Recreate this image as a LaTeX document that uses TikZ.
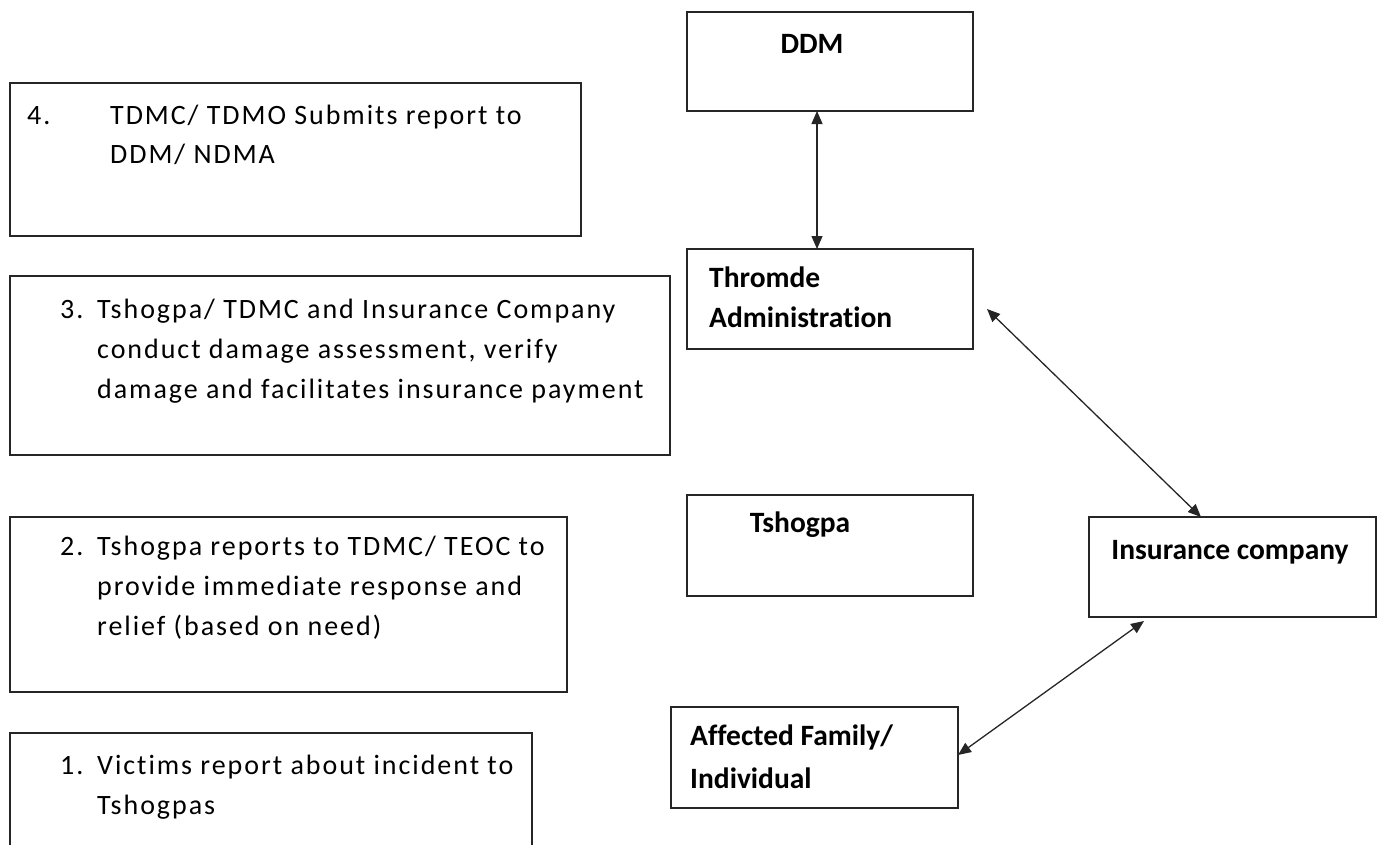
\documentclass[tikz,border=0pt]{standalone}
\usepackage{fontspec}
\setmainfont{Carlito}[Ligatures=NoCommon]
\newfontfamily\spacedfont[LetterSpace=7,Ligatures=NoCommon]{Carlito}
\usetikzlibrary{arrows.meta}
\begin{document}
\begin{tikzpicture}[x=1pt,y=-1pt,
  box/.style={draw=black!85,line width=1.4pt,inner sep=0pt,outer sep=0pt},
  txt/.style={anchor=base west,inner sep=0pt,font=\fontsize{28}{40}\spacedfont},
  btxt/.style={anchor=base west,inner sep=0pt,font=\fontsize{29.5}{40}\selectfont\bfseries},
  arr/.style={draw=black!85,line width=1.3pt,{Triangle[length=13pt,width=11pt]}-{Triangle[length=13pt,width=11pt]}}]
\useasboundingbox (0,0) rectangle (1382,844);
\clip (0,0) rectangle (1382,844);
% left step boxes
\node[box,minimum width=571pt,minimum height=153pt] (b4) at (295.5,159.5) {};
\node[box,minimum width=660pt,minimum height=179pt] (b3) at (340,365.5) {};
\node[box,minimum width=557pt,minimum height=175pt] (b2) at (288.5,604.5) {};
\node[box,minimum width=522pt,minimum height=147pt] (b1) at (271,806.5) {};
% step texts
\node[txt] (n4) at (27,124) {4.};
\node[txt] (t4a) at (110,124) {TDMC/ TDMO Submits report to};
\node[txt] (t4b) at (110,163) {DDM/ NDMA};
\node[txt] (n3) at (60,318) {3.};
\node[txt] (t3a) at (97,318) {Tshogpa/ TDMC and Insurance Company};
\node[txt] (t3b) at (97,358) {conduct damage assessment, verify};
\node[txt] (t3c) at (97,398) {damage and facilitates insurance payment};
\node[txt] (n2) at (60,555) {2.};
\node[txt] (t2a) at (97,555) {Tshogpa reports to TDMC/ TEOC to};
\node[txt] (t2b) at (97,595) {provide immediate response and};
\node[txt] (t2c) at (97,635) {relief (based on need)};
\node[txt] (n1) at (60,774) {1.};
\node[txt] (t1a) at (97,774) {Victims report about incident to};
\node[txt] (t1b) at (97,814) {Tshogpas};
% right boxes
\node[box,minimum width=286pt,minimum height=99pt] (ddm) at (830,61.5) {};
\node[box,minimum width=286pt,minimum height=100pt] (thr) at (830,299) {};
\node[box,minimum width=286pt,minimum height=101pt] (tsh) at (830,545.5) {};
\node[box,minimum width=287pt,minimum height=100pt] (ins) at (1232.5,567) {};
\node[box,minimum width=287pt,minimum height=101pt] (aff) at (814.5,757.5) {};
\node[btxt,anchor=base] (lddm) at (812,53) {DDM};
\node[btxt] (lthr1) at (709,287) {Thromde};
\node[btxt] (lthr2) at (709,327) {Administration};
\node[btxt,anchor=base] (ltsh) at (800,532) {Tshogpa};
\node[btxt,anchor=base] (lins) at (1230,559) {Insurance company};
\node[btxt] (laff1) at (690,745) {Affected Family/};
\node[btxt] (laff2) at (690,788) {Individual};
% connectors
\coordinate (thrfree) at (987,309);
\coordinate (insfree) at (1144,621);
\draw[arr] ([xshift=-13pt]ddm.south) -- ([xshift=-13pt]thr.north);
\draw[arr] (thrfree) -- ([xshift=-31.5pt]ins.north);
\draw[arr] (insfree) -- ([yshift=2.5pt]aff.east);
\end{tikzpicture}
\end{document}
